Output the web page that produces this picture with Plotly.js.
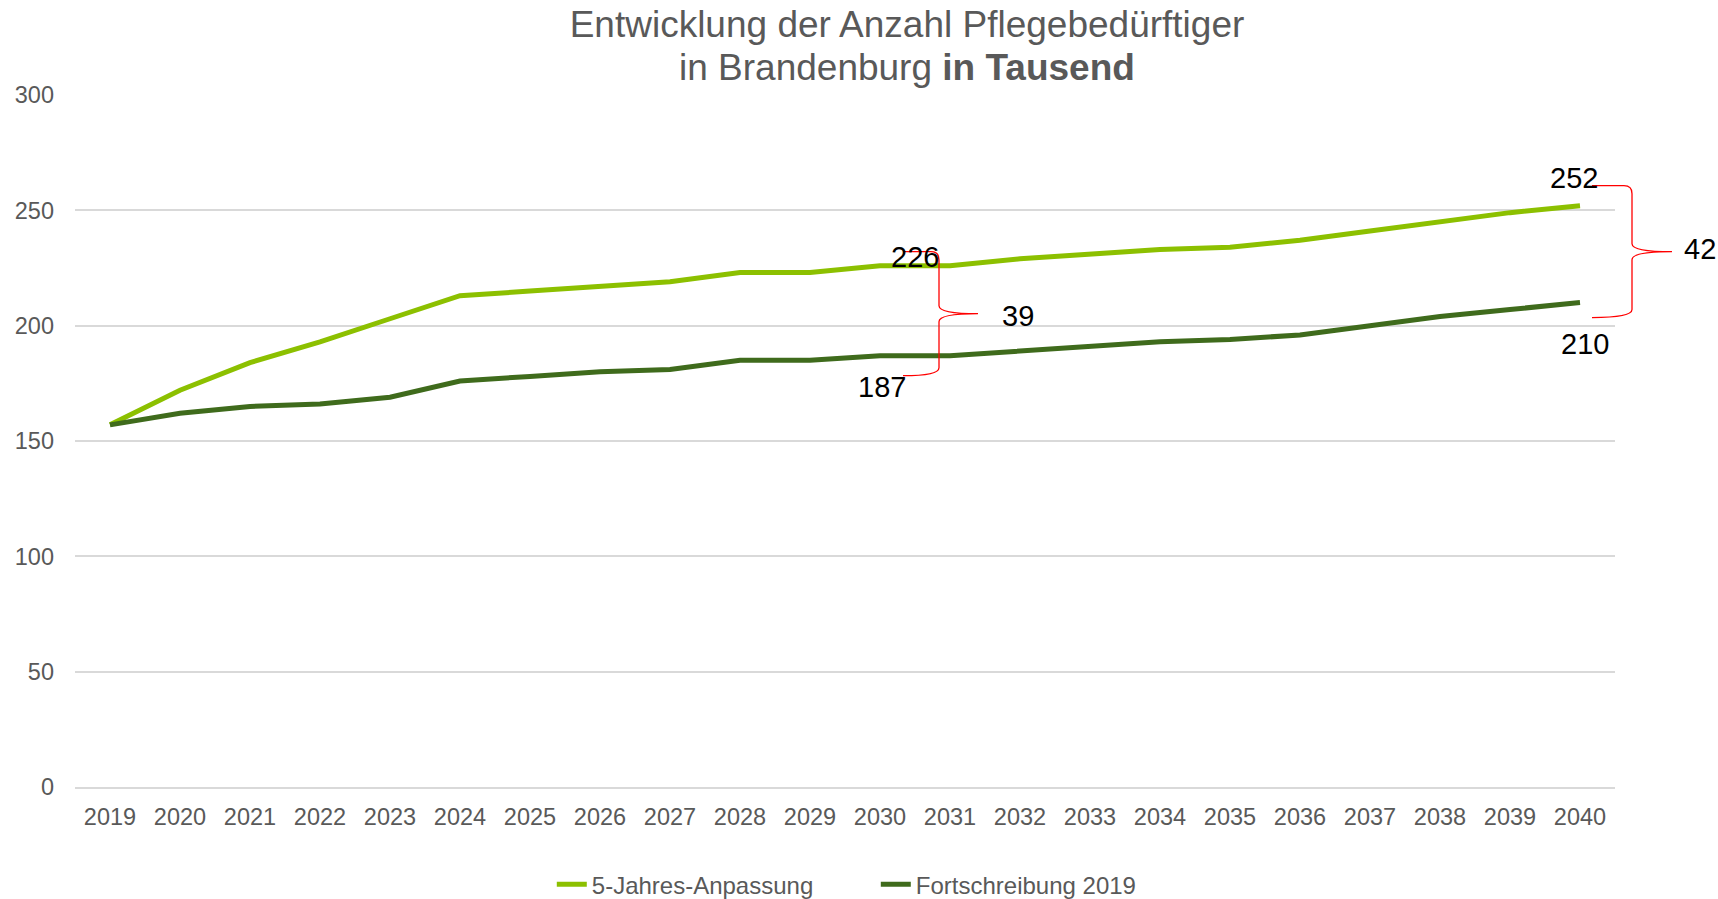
<!DOCTYPE html>
<html>
<head>
<meta charset="utf-8">
<script src="https://cdn.plot.ly/plotly-3.0.1.min.js"></script>
<style>html,body{margin:0;padding:0;background:#fff;}#chart{width:1718px;height:899px;}</style>
</head>
<body>
<div id="chart"></div>
<script>
const years = ["2019","2020","2021","2022","2023","2024","2025","2026","2027","2028","2029","2030","2031","2032","2033","2034","2035","2036","2037","2038","2039","2040"];
const anpassung = [157,172,184,193,203,213,215,217,219,223,223,226,226,229,231,233,234,237,241,245,249,252];
const fortschreibung = [157,162,165,166,169,176,178,180,181,185,185,187,187,189,191,193,194,196,200,204,207,210];
const seriesNames = ["5-Jahres-Anpassung","Fortschreibung 2019"];
const yTicks = [0,50,100,150,200,250,300];
const titleLines = ["Entwicklung der Anzahl Pflegebedürftiger", "in Brandenburg <b>in Tausend</b>"];

const W = 1718, H = 899;
const M = {l:75, r:103, t:95, b:112};
const PW = W - M.l - M.r, PH = H - M.t - M.b;
const YMAX = 300;
// helpers mapping category index / value to pixel and pixel to paper
const pxX = i => M.l + (i + 0.5) * PW / years.length;
const pxY = v => M.t + PH * (1 - v / YMAX);
const toPX = x => (x - M.l) / PW;
const toPY = y => (M.t + PH - y) / PH;

function bracePath(xl, xv, xt, yt, yb) {
  const ym = (yt + yb) / 2, r = 8;
  const P = (x, y) => toPX(x).toFixed(5) + ',' + toPY(y).toFixed(5);
  return 'M' + P(xl, yt) +
    ' L' + P(xv - r, yt) +
    ' Q' + P(xv, yt) + ' ' + P(xv, yt + r) +
    ' L' + P(xv, ym - r) +
    ' Q' + P(xv, ym) + ' ' + P(xt, ym) +
    ' Q' + P(xv, ym) + ' ' + P(xv, ym + r) +
    ' L' + P(xv, yb - r) +
    ' Q' + P(xv, yb) + ' ' + P(xl, yb);
}

const i1 = years.indexOf("2030");
const i2 = years.length - 1;
const shapes = [
  {type:'path', xref:'paper', yref:'paper', line:{color:'#ff0000', width:1.3},
   path: bracePath(pxX(i1)+23, pxX(i1)+59, pxX(i1)+98, pxY(anpassung[i1])-14, pxY(fortschreibung[i1])+20)},
  {type:'path', xref:'paper', yref:'paper', line:{color:'#ff0000', width:1.3},
   path: bracePath(pxX(i2)+12, pxX(i2)+52, pxX(i2)+92, pxY(anpassung[i2])-20, pxY(fortschreibung[i2])+15)}
];

const FONT = 'Liberation Sans, Arial, sans-serif';
const lblFont = {family:FONT, size:29, color:'#000000'};
function lbl(text, x, y) {
  return {text:String(text), xref:'paper', yref:'paper', x:toPX(x), y:toPY(y),
          xanchor:'center', yanchor:'middle', showarrow:false, font:lblFont};
}
const annotations = [
  lbl(anpassung[i1], pxX(i1)+35, 257),
  lbl(fortschreibung[i1], pxX(i1)+2, pxY(fortschreibung[i1])+31),
  lbl(anpassung[i1]-fortschreibung[i1], pxX(i1)+138, 316),
  lbl(anpassung[i2], pxX(i2)-6, pxY(anpassung[i2])-28),
  lbl(fortschreibung[i2], pxX(i2)+5, pxY(fortschreibung[i2])+41),
  lbl(anpassung[i2]-fortschreibung[i2], pxX(i2)+120, 249),
  {text:titleLines[1], xref:'paper', yref:'paper', x:toPX(907), y:toPY(67),
   xanchor:'center', yanchor:'middle', showarrow:false,
   font:{family:FONT, size:37, color:'#595959'}}
];

const traces = [
  {x:years, y:anpassung, name:seriesNames[0], type:'scatter', mode:'lines',
   line:{color:'#8CC000', width:5}},
  {x:years, y:fortschreibung, name:seriesNames[1], type:'scatter', mode:'lines',
   line:{color:'#3F6B1C', width:5}}
];

const tickFont = {family:FONT, size:23.5, color:'#595959'};
const layout = {
  width:W, height:H,
  margin:M,
  paper_bgcolor:'#ffffff', plot_bgcolor:'#ffffff',
  title:{text:titleLines[0],
         font:{family:FONT, size:37, color:'#595959'},
         x:907/W, xref:'container', xanchor:'center', y:1-24/H, yref:'container', yanchor:'middle'},
  xaxis:{type:'category', range:[-0.5, years.length-0.5], tickvals:years, ticktext:years, showgrid:false, zeroline:false,
         showline:true, linecolor:'#d9d9d9', linewidth:1.5, ticks:'', tickfont:tickFont,
         ticklabelstandoff:8, fixedrange:true},
  yaxis:{range:[0,YMAX], tickvals:yTicks, showgrid:true, gridcolor:'#d9d9d9', gridwidth:1.5,
         zeroline:false, showline:false, ticks:'', tickfont:tickFont, ticklabelstandoff:20,
         fixedrange:true},
  showlegend:true,
  legend:{orientation:'h', xref:'paper', x:0.520, xanchor:'center', yref:'container', y:0.016, yanchor:'middle',
          font:{family:FONT, size:24, color:'#595959'}, entrywidth:279, entrywidthmode:'pixels', traceorder:'normal'},
  shapes:shapes,
  annotations:annotations
};

Plotly.newPlot('chart', traces, layout, {displayModeBar:false, responsive:false});
</script>
</body>
</html>
